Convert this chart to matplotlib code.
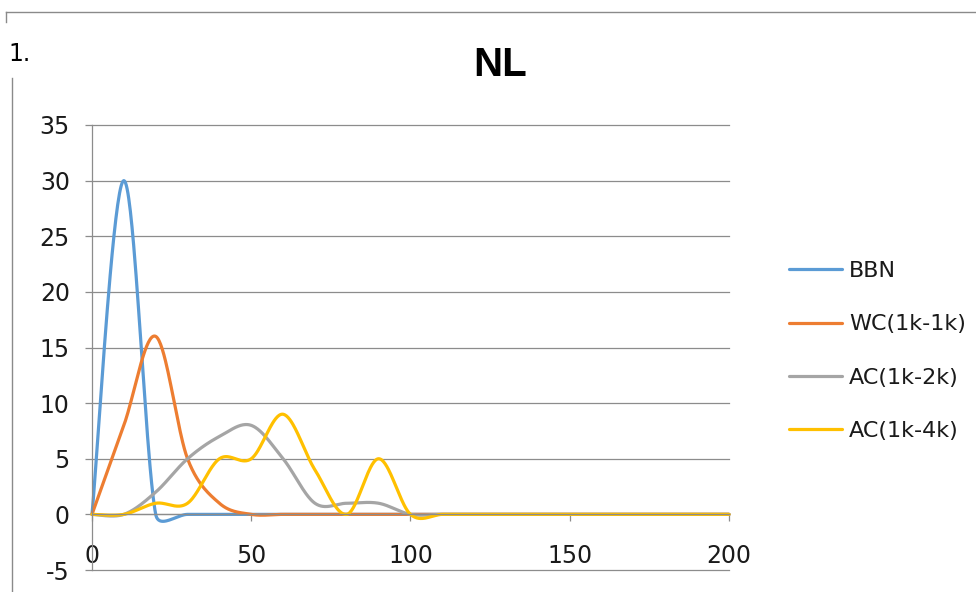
import numpy as np
import matplotlib.pyplot as plt
from matplotlib.lines import Line2D

plt.rcParams['axes.unicode_minus'] = False

# sample positions and responses for each stimulus
x_vals = [0, 10, 20, 30, 40, 50, 60, 70, 80, 90, 100,
          110, 120, 130, 140, 150, 160, 170, 180, 190, 200]
bbn  = [0, 30, 0, 0, 0, 0, 0, 0, 0, 0, 0, 0, 0, 0, 0, 0, 0, 0, 0, 0, 0]
wc11 = [0, 8, 16, 5, 1, 0, 0, 0, 0, 0, 0, 0, 0, 0, 0, 0, 0, 0, 0, 0, 0]
ac12 = [0, 0, 2, 5, 7, 8, 5, 1, 1, 1, 0, 0, 0, 0, 0, 0, 0, 0, 0, 0, 0]
ac14 = [0, 0, 1, 1, 5, 5, 9, 4, 0, 5, 0, 0, 0, 0, 0, 0, 0, 0, 0, 0, 0]

labels = ['BBN', 'WC(1k-1k)', 'AC(1k-2k)', 'AC(1k-4k)']
colors = ['#5B9BD5', '#ED7D31', '#A5A5A5', '#FFC000']

x_ticks = [0, 50, 100, 150, 200]
y_ticks = [-5, 0, 5, 10, 15, 20, 25, 30, 35]

grid_col = '#8c8c8c'
txt_col = '#1a1a1a'


def smooth(ax, xs, ys, n=40):
    """Spreadsheet-style smoothed line: cubic Bezier per segment, control
    points at 1/6 of the neighbour chord, capped at half the segment length
    (computed in screen space)."""
    pts = ax.transData.transform(np.column_stack([xs, ys]).astype(float))
    out = []
    t = np.linspace(0, 1, n)[:, None]
    for i in range(len(pts) - 1):
        p0 = pts[i - 1] if i > 0 else pts[i]
        p1, p2 = pts[i], pts[i + 1]
        p3 = pts[i + 2] if i + 2 < len(pts) else pts[i + 1]
        d12 = np.hypot(*(p2 - p1))
        d02 = np.hypot(*(p2 - p0))
        d13 = np.hypot(*(p3 - p1))
        f0 = 1 / 6 if d02 / 6 < d12 / 2 else d12 / d02 / 2
        f1 = 1 / 6 if d13 / 6 < d12 / 2 else d12 / d13 / 2
        c1 = p1 + (p2 - p0) * f0
        c2 = p2 - (p3 - p1) * f1
        seg = ((1 - t) ** 3) * p1 + 3 * ((1 - t) ** 2) * t * c1 \
            + 3 * (1 - t) * t ** 2 * c2 + t ** 3 * p2
        out.append(seg if i == 0 else seg[1:])
    out = np.vstack(out)
    return ax.transData.inverted().transform(out).T


fig = plt.figure(figsize=(9.76, 5.92), dpi=100, facecolor='white')
ax = fig.add_axes([92 / 976, 22 / 592, 637 / 976, 445 / 592])
ax.set_xlim(0, 200)
ax.set_ylim(-5, 35)

ax.set_yticks(y_ticks)
ax.set_xticks(x_ticks)
ax.yaxis.grid(True, color=grid_col, linewidth=0.9)
ax.set_axisbelow(True)
for gl in ax.get_ygridlines():
    gl.set_clip_on(False)

for side in ['top', 'right']:
    ax.spines[side].set_visible(False)
ax.spines['bottom'].set_position(('data', 0))
ax.spines['bottom'].set_color(grid_col)
ax.spines['left'].set_color(grid_col)
ax.spines['bottom'].set_linewidth(0.9)
ax.spines['left'].set_linewidth(0.9)

ax.tick_params(axis='y', direction='out', length=5, width=0.9, color=grid_col,
               pad=11, labelsize=17, labelcolor=txt_col)
ax.tick_params(axis='x', direction='out', length=5, width=0.9, color=grid_col,
               pad=16, labelsize=17, labelcolor=txt_col)

for ys, lab, col in zip([bbn, wc11, ac12, ac14], labels, colors):
    sx, sy = smooth(ax, x_vals, ys)
    ax.plot(sx, sy, color=col, linewidth=2.3, label=lab,
            solid_capstyle='round', clip_on=False)

ax.legend(loc='upper left', bbox_to_anchor=(778 / 976, 1 - 250 / 592),
          bbox_transform=fig.transFigure, frameon=False, fontsize=16,
          handlelength=2.4, handletextpad=0.3, labelspacing=1.5,
          labelcolor=txt_col, borderpad=0)

fig.text(500 / 976, 1 - 65 / 592, 'NL', ha='center', va='center',
         fontsize=29, fontweight='bold', family='Liberation Sans', color='black')
fig.text(8 / 976, 1 - 54 / 592, '1.', ha='left', va='center',
         fontsize=17, color='black')

# page border lines around the chart
fig.add_artist(Line2D([6 / 976, 1], [1 - 12 / 592, 1 - 12 / 592],
                      transform=fig.transFigure, color='#8a8a8a', linewidth=1))
fig.add_artist(Line2D([6 / 976, 6 / 976], [1 - 12 / 592, 1 - 22 / 592],
                      transform=fig.transFigure, color='#8a8a8a', linewidth=1))
fig.add_artist(Line2D([12 / 976, 12 / 976], [0, 1 - 78 / 592],
                      transform=fig.transFigure, color='#8a8a8a', linewidth=1))

fig.savefig('out.png', dpi=100, facecolor='white')
